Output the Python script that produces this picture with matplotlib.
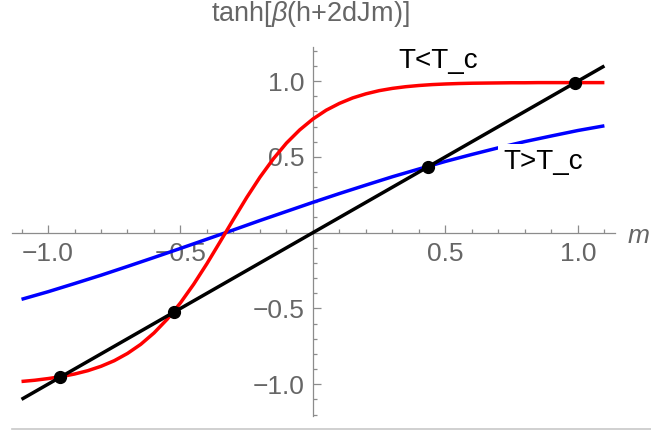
import matplotlib
matplotlib.use("Agg")
import matplotlib.pyplot as plt
from matplotlib.lines import Line2D
from matplotlib.ticker import FixedLocator, FixedFormatter, MultipleLocator

plt.rcParams["font.family"] = ["Liberation Sans", "DejaVu Sans"]
plt.rcParams["mathtext.fontset"] = "custom"
plt.rcParams["mathtext.rm"] = "Liberation Sans"
plt.rcParams["mathtext.it"] = "Liberation Sans:italic"
plt.rcParams["axes.unicode_minus"] = True

# values
m_red = [-1.10, -1.05, -1.00, -0.95, -0.90, -0.85, -0.80, -0.75, -0.70, -0.65,
         -0.60, -0.55, -0.50, -0.45, -0.40, -0.35, -0.30, -0.25, -0.20, -0.15,
         -0.10, -0.05, 0.00, 0.05, 0.10, 0.15, 0.20, 0.25, 0.30, 0.35,
         0.40, 0.45, 0.50, 0.55, 0.60, 0.65, 0.70, 0.75, 0.80, 0.85,
         0.90, 0.95, 1.00, 1.05, 1.10]
low_t = [-0.982, -0.974, -0.963, -0.950, -0.933, -0.911, -0.882, -0.845, -0.797, -0.737,
         -0.662, -0.571, -0.463, -0.340, -0.204, -0.059, 0.088, 0.232, 0.366, 0.486,
         0.591, 0.678, 0.750, 0.808, 0.853, 0.889, 0.916, 0.937, 0.952, 0.963,
         0.971, 0.977, 0.981, 0.984, 0.986, 0.987, 0.988, 0.989, 0.989, 0.990,
         0.990, 0.990, 0.990, 0.990, 0.990]

m_blue = [-1.1, -1.0, -0.9, -0.8, -0.7, -0.6, -0.5, -0.4, -0.3, -0.2, -0.1, 0.0,
          0.1, 0.2, 0.3, 0.4, 0.5, 0.6, 0.7, 0.8, 0.9, 1.0, 1.1]
high_t = [-0.440, -0.390, -0.336, -0.281, -0.223, -0.164, -0.104, -0.043, 0.018, 0.080,
          0.140, 0.200, 0.258, 0.314, 0.369, 0.420, 0.470, 0.516, 0.560, 0.601,
          0.638, 0.674, 0.705]

m_line = [-1.1, 1.1]
fixed_pts = [-0.953, -0.525, 0.435, 0.99]

tick_vals = [-1.0, -0.5, 0.5, 1.0]
tick_text = ["\u22121.0", "\u22120.5", "0.5", "1.0"]

axis_gray = "#8c8c8c"
label_gray = "#666666"

fig = plt.figure(figsize=(6.51, 4.32), dpi=100)
ax = fig.add_axes([0.0184, 0.037, 0.9263, 0.8542])

ax.plot(m_blue, high_t, color="#0000ff", lw=2.5, zorder=3, solid_capstyle="butt")
ax.plot(m_red, low_t, color="#ff0000", lw=2.5, zorder=3.1, solid_capstyle="butt")
ax.plot(m_line, m_line, color="black", lw=2.5, zorder=3.2, solid_capstyle="butt")
ax.plot(fixed_pts, fixed_pts, "o", color="black", ms=8.5, zorder=4)

ax.text(0.472, 1.13, "T<T_c", fontsize=20, ha="center", va="center", zorder=5)
ax.text(0.868, 0.465, "T>T_c", fontsize=20, ha="center", va="center", zorder=5,
        bbox=dict(boxstyle="square,pad=0.2", fc="white", ec="none"))

ax.set_xlim(-1.136, 1.14)
ax.set_ylim(-1.21, 1.225)

for side in ["top", "right"]:
    ax.spines[side].set_visible(False)
for side in ["left", "bottom"]:
    ax.spines[side].set_position(("data", 0))
    ax.spines[side].set_color(axis_gray)
    ax.spines[side].set_linewidth(0.9)

for axis in [ax.xaxis, ax.yaxis]:
    axis.set_major_locator(FixedLocator(tick_vals))
    axis.set_major_formatter(FixedFormatter(tick_text))
    axis.set_minor_locator(MultipleLocator(0.1))

ax.tick_params(which="both", direction="in", color=axis_gray, width=0.9,
               labelsize=19, labelcolor=label_gray)
ax.tick_params(which="major", length=5.8)
ax.tick_params(which="minor", length=2.9)
ax.tick_params(axis="x", pad=7)
ax.tick_params(axis="y", pad=6)
ax.patch.set_visible(False)

fig.text(310 / 651, 1 - 14 / 432, r"tanh[$\beta$(h+2dJm)]", fontsize=19.5,
         color=label_gray, ha="center", va="center")
fig.text(639 / 651, 1 - 236 / 432, "m", fontsize=19, style="italic",
         color=label_gray, ha="center", va="center")

fig.add_artist(Line2D([12 / 651, 1.0], [1 - 429 / 432, 1 - 429 / 432],
                      transform=fig.transFigure, color="#c8c8c8", lw=1.2))

fig.savefig("out.png", dpi=100)
